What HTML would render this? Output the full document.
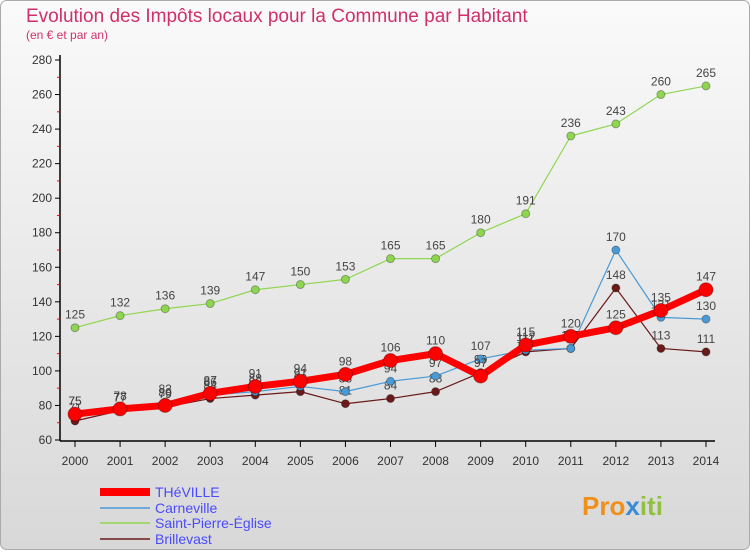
<!DOCTYPE html>
<html><head><meta charset="utf-8"><style>
body{margin:0;width:750px;height:550px;overflow:hidden;font-family:"Liberation Sans",sans-serif}
</style></head><body>
<svg width="750" height="550" xmlns="http://www.w3.org/2000/svg" id="svg">
<defs><linearGradient id="bg" x1="0" y1="0" x2="0" y2="1"><stop offset="0" stop-color="#fafafa"/><stop offset="1" stop-color="#d8d8d8"/></linearGradient></defs>
<rect x="0.5" y="0.5" width="749" height="549" rx="6" fill="url(#bg)" stroke="#aaa"/>
<text x="26" y="22" font-size="19" fill="#d0306a">Evolution des Impôts locaux pour la Commune par Habitant</text>
<text x="26" y="39" font-size="12" fill="#d0306a">(en € et par an)</text>
<g id="axes"></g><g id="series"></g>
<g font-size="14">
<line x1="100" y1="492" x2="150" y2="492" stroke="#f00" stroke-width="8"/><text x="155" y="497" fill="#4a4aff">THéVILLE</text>
<line x1="100" y1="508" x2="150" y2="508" stroke="#4a9ad6" stroke-width="1.5"/><text x="155" y="513" fill="#4a4aff">Carneville</text>
<line x1="100" y1="523" x2="150" y2="523" stroke="#8fd650" stroke-width="1.5"/><text x="155" y="528" fill="#4a4aff">Saint-Pierre-Église</text>
<line x1="100" y1="539" x2="150" y2="539" stroke="#6b1a1a" stroke-width="1.5"/><text x="155" y="544" fill="#4a4aff">Brillevast</text>
</g>
<text x="582" y="515" font-size="26" font-weight="bold" fill="#f0901a">Pro<tspan fill="#3a8ad6">x</tspan><tspan fill="#8fc040">iti</tspan></text>
</svg>
<script>
const years=[2000,2001,2002,2003,2004,2005,2006,2007,2008,2009,2010,2011,2012,2013,2014];
const theville=[75,78,80,87,91,94,98,106,110,97,115,120,125,135,147];
const carneville=[75,77,82,86,88,91,88,94,97,107,112,113,170,131,130];
const saintPierre=[125,132,136,139,147,150,153,165,165,180,191,236,243,260,265];
const brillevast=[71,77,79,84,86,88,81,84,88,99,111,113,148,113,111];
const yTicks=[60,80,100,120,140,160,180,200,220,240,260,280];
const NS="http://www.w3.org/2000/svg";
const X=v=>75+(v-2000)*(706-75)/14, Y=v=>440-(v-60)*380/220;
function mk(t,a,p){const e=document.createElementNS(NS,t);for(const k in a)e.setAttribute(k,a[k]);p.appendChild(e);return e;}
const ax=document.getElementById('axes'), sg=document.getElementById('series');
let l=mk('line',{x1:60,y1:55,x2:60,y2:441,stroke:'#000','stroke-width':1.5},ax);

l=mk('line',{x1:60,y1:441,x2:715,y2:441,stroke:'#000','stroke-width':1.5},ax);

yTicks.forEach(v=>{const y=Y(v);mk('line',{x1:55,y1:y,x2:60,y2:y,stroke:'#000'},ax);
if(v<280)mk('line',{x1:57,y1:Y(v+10),x2:60,y2:Y(v+10),stroke:'#f00'},ax);
const t=mk('text',{x:52,y:y+4,'font-size':12,'text-anchor':'end',fill:'#333'},ax);t.textContent=v;
});
years.forEach(v=>{const x=X(v);mk('line',{x1:x,y1:441,x2:x,y2:447,stroke:'#000'},ax);
const t=mk('text',{x:x,y:465,'font-size':12,'text-anchor':'middle',fill:'#333'},ax);t.textContent=v;
});
function series(d,name,color,w,r){const g=mk('g',{},sg);
mk('polyline',{points:d.map((v,i)=>X(years[i])+','+Y(v)).join(' '),fill:'none',stroke:color,'stroke-width':w,'stroke-linejoin':'round'},g);
d.forEach((v,i)=>{const c=mk('circle',{cx:X(years[i]),cy:Y(v),r:r,fill:color,stroke:'rgba(0,0,0,0.3)'},g);

const t=mk('text',{x:X(years[i]),y:Y(v)-9,'font-size':12,'text-anchor':'middle',fill:'#444'},g);t.textContent=v;
});}
series(brillevast,'brillevast','#6b1a1a',1.2,4);
series(saintPierre,'saint-pierre','#8fd650',1.2,4);
series(carneville,'carneville','#4a9ad6',1.2,4);
series(theville,'theville','#f00',7,7);
</script>
</body></html>
